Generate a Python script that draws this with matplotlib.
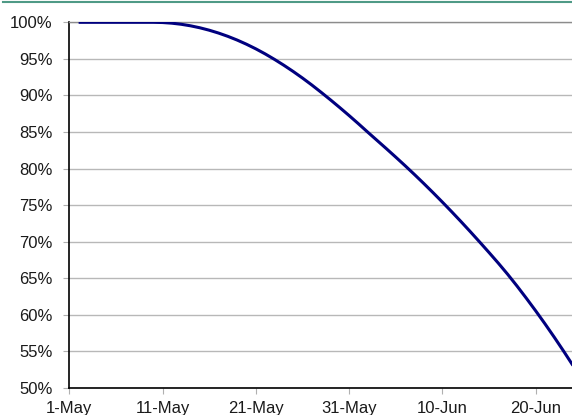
import matplotlib
matplotlib.use("Agg")
import matplotlib.pyplot as plt
import matplotlib.dates as mdates
import numpy as np
import pandas as pd
from matplotlib.lines import Line2D

# Data: daily values from 2-May to 24-Jun (percent)
dates = pd.date_range("2020-05-02", "2020-06-24", freq="D")
values = [100.0, 100.0, 100.0, 100.0, 100.0, 100.0, 100.0, 100.0, 100.0, 99.97,
          99.88, 99.73, 99.52, 99.25, 98.92, 98.53, 98.08, 97.57, 97.0, 96.37,
          95.68, 94.93, 94.13, 93.28, 92.38, 91.43, 90.43, 89.40, 88.34, 87.25,
          86.13, 84.98, 83.85, 82.72, 81.57, 80.40, 79.20, 77.97, 76.71, 75.42,
          74.10, 72.75, 71.37, 69.96, 68.53, 67.07, 65.55, 63.95, 62.28, 60.56,
          58.78, 56.94, 55.04, 53.08]
y_ticks = [50, 55, 60, 65, 70, 75, 80, 85, 90, 95, 100]
x_ticks = pd.to_datetime(["2020-05-01", "2020-05-11", "2020-05-21",
                          "2020-05-31", "2020-06-10", "2020-06-20"])
x_labels = ["1-May", "11-May", "21-May", "31-May", "10-Jun", "20-Jun"]

plt.rcParams['font.family'] = ['Liberation Sans', 'DejaVu Sans']

W, H = 572, 415
fig = plt.figure(figsize=(W / 100, H / 100), dpi=100)
ax = fig.add_axes([69.3 / W, (H - 388) / H, (W - 69.3) / W, (388 - 22.3) / H])

xd = mdates.date2num(dates.to_pydatetime())
ax.plot(xd, values, color="#00007f", lw=2.2, solid_capstyle="butt", zorder=3)

x0 = mdates.date2num(pd.Timestamp("2020-05-01").to_pydatetime())
ax.set_xlim(x0, x0 + 53.9)
ax.set_ylim(50, 100)

ax.set_yticks(y_ticks)
ax.set_yticklabels([f"{v}%" for v in y_ticks])
ax.set_xticks(mdates.date2num(x_ticks.to_pydatetime()))
ax.set_xticklabels(x_labels)

ax.yaxis.grid(True, color="#b8b8b8", lw=1.0)
ax.set_axisbelow(True)

ax.spines["right"].set_visible(False)
ax.spines["top"].set_color("#8c8c8c")
ax.spines["top"].set_linewidth(1.0)
ax.spines["left"].set_color("black")
ax.spines["bottom"].set_color("black")
ax.spines["left"].set_linewidth(1.2)
ax.spines["bottom"].set_linewidth(1.2)

ax.tick_params(axis="both", direction="out", length=4, width=0.8,
               color="#b0b0b0", labelsize=12, labelcolor="#1a1a1a")
ax.tick_params(axis="x", pad=5)
ax.tick_params(axis="y", pad=8)

# teal header line
fig.add_artist(Line2D([3 / W, 1.0], [1 - 2 / H, 1 - 2 / H], color="#4f9a86",
                      lw=1.5, transform=fig.transFigure))

fig.savefig("out.png", dpi=100)
